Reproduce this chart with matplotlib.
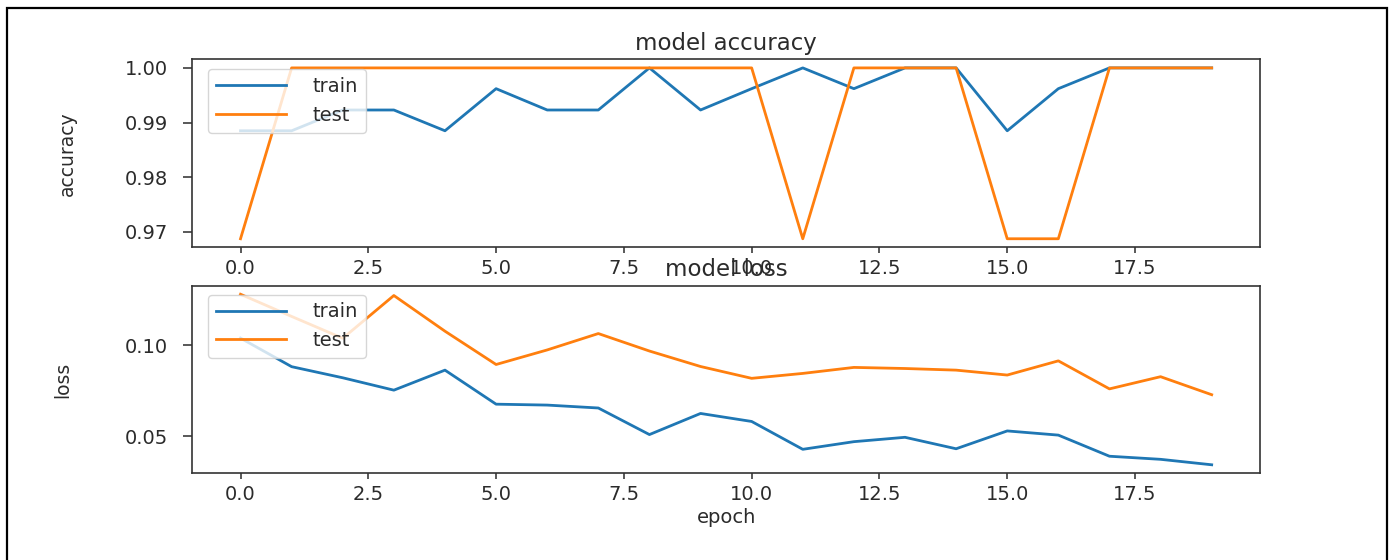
import matplotlib.pyplot as plt
from matplotlib.patches import Rectangle

# 训练过程数据
epochs = list(range(20))
acc_train = [0.9885, 0.9885, 0.9923, 0.9923, 0.9885, 0.9962, 0.9923, 0.9923, 1.0, 0.9923,
             0.9962, 1.0, 0.9962, 1.0, 1.0, 0.9885, 0.9962, 1.0, 1.0, 1.0]
acc_test = [0.96875, 1.0, 1.0, 1.0, 1.0, 1.0, 1.0, 1.0, 1.0, 1.0,
            1.0, 0.96875, 1.0, 1.0, 1.0, 0.96875, 0.96875, 1.0, 1.0, 1.0]
loss_train = [0.1038, 0.0881, 0.0820, 0.0752, 0.0862, 0.0675, 0.0670, 0.0654, 0.0508, 0.0624,
              0.0580, 0.0427, 0.0469, 0.0493, 0.0430, 0.0528, 0.0505, 0.0389, 0.0372, 0.0342]
loss_test = [0.1279, 0.1157, 0.1037, 0.1272, 0.1076, 0.0893, 0.0973, 0.1063, 0.0967, 0.0882,
             0.0817, 0.0844, 0.0877, 0.0871, 0.0862, 0.0835, 0.0913, 0.0759, 0.0826, 0.0727]
legend_labels = ['train', 'test']

plt.rcParams['font.family'] = ['DejaVu Sans']
plt.rcParams['text.color'] = '#2b2b2b'
plt.rcParams['axes.labelcolor'] = '#2b2b2b'
plt.rcParams['xtick.color'] = '#2b2b2b'
plt.rcParams['ytick.color'] = '#2b2b2b'

fig = plt.figure(figsize=(13.91, 5.6), dpi=100)

# 外框
fig.patches.append(Rectangle((7 / 1391, -0.1), 1380 / 1391, 1.1 - 8 / 560,
                             transform=fig.transFigure, fill=False,
                             edgecolor='black', linewidth=1.6))

ax1 = fig.add_axes([0.138, 0.5584, 0.768, 0.3356])
ax2 = fig.add_axes([0.138, 0.1548, 0.768, 0.335])


def style(ax):
    for s in ax.spines.values():
        s.set_linewidth(1.2)
        s.set_color('#333333')
    ax.tick_params(axis='x', labelsize=14, length=4.5, width=1.1, pad=4)
    ax.tick_params(axis='y', labelsize=14, length=6.5, width=1.1, pad=11)


# 准确率
ax1.plot(epochs, acc_train, linewidth=2)
ax1.plot(epochs, acc_test, linewidth=2)
ax1.set_title('model accuracy', fontsize=16.5, pad=7)
ax1.set_ylabel('accuracy', fontsize=13.5)
ax1.yaxis.set_label_coords(-0.108, 0.5)
ax1.set_yticks([0.97, 0.98, 0.99, 1.00])
ax1.legend(legend_labels, loc='upper left', bbox_to_anchor=(16 / 1068, 1 - 10 / 188),
           borderaxespad=0, fontsize=14, handlelength=3.6, handletextpad=1.4)
style(ax1)

# 损失
ax2.plot(epochs, loss_train, linewidth=2)
ax2.plot(epochs, loss_test, linewidth=2)
ax2.set_title('model loss', fontsize=16.5, pad=7)
ax2.set_ylabel('loss', fontsize=13.5)
ax2.yaxis.set_label_coords(-0.112, 0.5)
ax2.set_xlabel('epoch', fontsize=14, labelpad=3)
ax2.set_yticks([0.05, 0.10])
ax2.legend(legend_labels, loc='upper left', bbox_to_anchor=(16 / 1068, 1 - 9 / 188),
           borderaxespad=0, fontsize=14, handlelength=3.6, handletextpad=1.4)
style(ax2)

plt.savefig('out.png', dpi=100)
